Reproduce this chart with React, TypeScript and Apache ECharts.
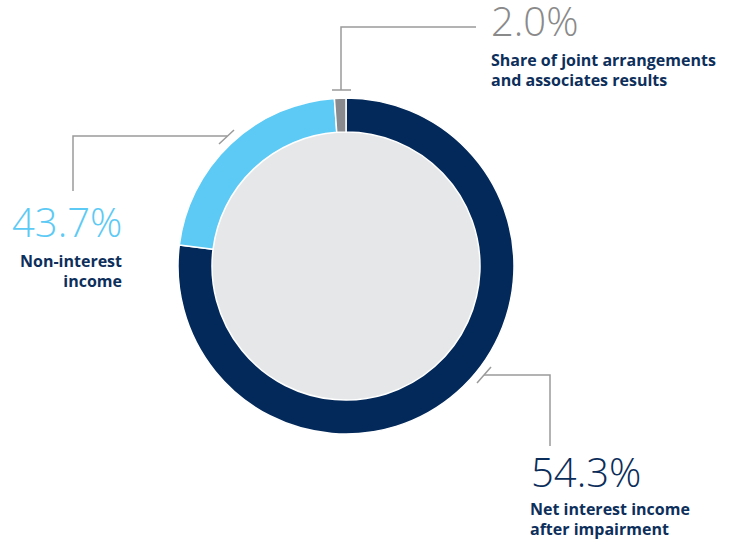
import React, { useEffect, useRef } from "react";
import * as echarts from "echarts";

// Segment names (clockwise from 12 o'clock)
const categories = ["Net interest income after impairment", "Non-interest income", "Share of joint arrangements and associates results"];
// Arc shares as drawn in the picture (clockwise order)
const arcShares = [77.0, 21.9, 1.1];
// Printed percentage labels
const labelPercents = ["54.3%", "43.7%", "2.0%"];
const labelTexts = ["Net interest income\nafter impairment", "Non-interest\nincome", "Share of joint arrangements\nand associates results"];
const colors = ["#03295a", "#5ccaf5", "#898a8d"];
const pctColors = ["#0b2d5a", "#5ccaf5", "#8a8a8a"];

const NAVY = "#0d2f5b";
const LINE = "#9a9a9a";

export default function App() {
  const ref = useRef<HTMLDivElement>(null);
  useEffect(() => {
    if (!ref.current) return;
    const chart = echarts.init(ref.current, undefined, { renderer: "svg" });
    const cx = 346, cy = 266;
    const lineStyle = { stroke: LINE, lineWidth: 1.5 };
    const pctFont = { fontFamily: "Open Sans", fontWeight: 300 as any, fontSize: 40, lineHeight: 34 };
    const lblFont = { fontFamily: "Open Sans", fontWeight: "bold" as any, fontSize: 16, lineHeight: 20, fill: NAVY };
    chart.setOption({
      animation: false,
      series: [
        {
          type: "pie",
          silent: true,
          center: [cx, cy],
          radius: [0, 135],
          label: { show: false },
          labelLine: { show: false },
          data: [{ value: 1, name: "inner", itemStyle: { color: "#e6e7e8" } }],
        },
        {
          type: "pie",
          silent: true,
          center: [cx, cy],
          radius: [134, 168],
          startAngle: 90,
          clockwise: true,
          label: { show: false },
          labelLine: { show: false },
          itemStyle: { borderColor: "#ffffff", borderWidth: 1.5 },
          data: categories.map((c, i) => ({ name: c, value: arcShares[i], itemStyle: { color: colors[i] } })),
        },
      ],
      graphic: [
        // gray leader
        { type: "polyline", shape: { points: [[341, 90], [341, 27], [476, 27]] }, style: { ...lineStyle, fill: "none" } },
        { type: "line", shape: { x1: 332, y1: 90, x2: 351, y2: 90 }, style: lineStyle },
        // blue leader
        { type: "polyline", shape: { points: [[227, 136], [73, 136], [73, 191]] }, style: { ...lineStyle, fill: "none" } },
        { type: "line", shape: { x1: 219, y1: 144, x2: 234, y2: 130 }, style: lineStyle },
        // navy leader
        { type: "polyline", shape: { points: [[484, 375], [550, 375], [550, 446]] }, style: { ...lineStyle, fill: "none" } },
        { type: "line", shape: { x1: 477, y1: 383, x2: 491, y2: 367 }, style: lineStyle },
        // percentages
        { type: "text", x: 491, y: 20, style: { text: labelPercents[2], ...pctFont, fill: pctColors[2], textAlign: "left", textVerticalAlign: "middle" } },
        { type: "text", x: 12, y: 221, style: { text: labelPercents[1], ...pctFont, fill: pctColors[1], textAlign: "left", textVerticalAlign: "middle" } },
        { type: "text", x: 531, y: 471, style: { text: labelPercents[0], ...pctFont, fill: pctColors[0], textAlign: "left", textVerticalAlign: "middle" } },
        // descriptions
        { type: "text", x: 491, y: 50, style: { text: labelTexts[2], ...lblFont, textAlign: "left", textVerticalAlign: "top" } },
        { type: "text", x: 122, y: 251, style: { text: labelTexts[1], ...lblFont, textAlign: "right", textVerticalAlign: "top" } },
        { type: "text", x: 530, y: 499, style: { text: labelTexts[0], ...lblFont, textAlign: "left", textVerticalAlign: "top" } },
      ],
    });
    return () => chart.dispose();
  }, []);
  return <div ref={ref} style={{ position: "absolute", left: 0, top: 0, width: 731, height: 540 }} />;
}
